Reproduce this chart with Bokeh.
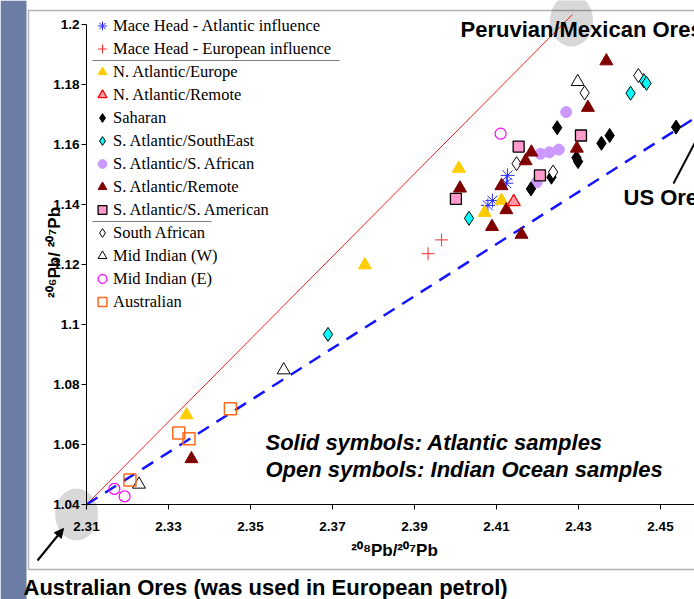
import math
from bokeh.plotting import figure
from bokeh.models import (Range1d, LinearAxis, FixedTicker, Legend, LegendItem,
                          Label, BoxAnnotation, Arrow, NormalHead)
from bokeh.embed import file_html
from bokeh.resources import INLINE

# ---------------- data ----------------
x_ticks = [2.31, 2.33, 2.35, 2.37, 2.39, 2.41, 2.43, 2.45]
x_tick_labels = ["2.31", "2.33", "2.35", "2.37", "2.39", "2.41", "2.43", "2.45"]
y_ticks = [1.04, 1.06, 1.08, 1.10, 1.12, 1.14, 1.16, 1.18, 1.20]
y_tick_labels = ["1.04", "1.06", "1.08", "1.1", "1.12", "1.14", "1.16", "1.18", "1.2"]

mace_atl_x = [2.4127, 2.4124, 2.4090, 2.4079]
mace_atl_y = [1.1497, 1.1471, 1.1413, 1.1397]
mace_eur_x = [2.3966, 2.3933]
mace_eur_y = [1.1282, 1.1236]
na_europe_x = [2.3779, 2.4008, 2.4112, 2.4071, 2.3344]
na_europe_y = [1.1198, 1.1520, 1.1413, 1.1373, 1.0698]
na_remote_x = [2.4142]
na_remote_y = [1.1409]
saharan_x = [2.4248, 2.4376, 2.4356, 2.4538, 2.4295, 2.4299, 2.4234, 2.4184]
saharan_y = [1.1656, 1.1630, 1.1604, 1.1658, 1.1556, 1.1543, 1.1491, 1.1452]
sa_southeast_x = [2.4459, 2.4466, 2.4427, 2.4033, 2.3689]
sa_southeast_y = [1.1813, 1.1804, 1.1771, 1.1354, 1.0967]
sa_african_x = [2.4270, 2.4207, 2.4229, 2.4252, 2.4198]
sa_african_y = [1.1708, 1.1569, 1.1574, 1.1583, 1.1474]
sa_remote_x = [2.4368, 2.4323, 2.4296, 2.4185, 2.4171, 2.4112, 2.4124, 2.4089, 2.4161, 2.4011, 2.3356]
sa_remote_y = [1.1878, 1.1723, 1.1587, 1.1574, 1.1545, 1.1462, 1.1382, 1.1326, 1.1300, 1.1454, 1.0552]
sa_american_x = [2.4306, 2.4154, 2.4206, 2.4001]
sa_american_y = [1.1630, 1.1593, 1.1497, 1.1419]
south_african_x = [2.4315, 2.4446, 2.4149, 2.4238]
south_african_y = [1.1772, 1.1830, 1.1536, 1.1508]
mid_indian_w_x = [2.4298, 2.3581, 2.3228]
mid_indian_w_y = [1.1809, 1.0848, 1.0467]
mid_indian_e_x = [2.4110, 2.3168, 2.3193]
mid_indian_e_y = [1.1636, 1.0452, 1.0427]
australian_x = [2.3451, 2.3325, 2.3350, 2.3206]
australian_y = [1.0719, 1.0638, 1.0619, 1.0482]

# mixing lines from the Australian ore end member
peru_line_x = [2.31, 2.4285]
peru_line_y = [1.04, 1.2033]
us_line_x = [2.31, 2.47]
us_line_y = [1.04, 1.1789]

# ore end members (grey highlight patches)
ore_x = [2.3076, 2.4283]
ore_y = [1.0367, 1.2013]

# ---------------- helpers for annotation placement (page px -> data) ----------------
def ax(px):
    return 2.31 + (px - 86) / 4100.0

def ay(py):
    return 1.04 + (504 - py) / 3000.0

W, H = 694, 599
p = figure(width=W, height=H,
           x_range=Range1d(ax(0), ax(W)), y_range=Range1d(ay(H), ay(0)),
           x_axis_type=None, y_axis_type=None,
           toolbar_location=None, output_backend="svg",
           min_border=0, min_border_left=0, min_border_right=0,
           min_border_top=0, min_border_bottom=0,
           outline_line_color=None, background_fill_color="white",
           border_fill_color="white")

# slide background strip and outer frame
p.add_layout(BoxAnnotation(right=ax(26), fill_color="#6b7ca5", fill_alpha=1.0,
                           line_color=None, level="underlay"))
p.add_layout(BoxAnnotation(left=ax(28), right=ax(760), top=ay(10), bottom=ay(569),
                           fill_alpha=0.0, line_color="black", line_width=1.5))

# grey highlight patches
p.ellipse(x=ore_x, y=ore_y, width=43, height=52, width_units="screen",
          height_units="screen", fill_color="#d8d8d8", line_color=None)

# mixing lines
p.line(peru_line_x, peru_line_y, line_color="#ff2020", line_width=1)
p.line(us_line_x, us_line_y, line_color="#1414ff", line_width=2.5, line_dash="13 9")

# axes
xaxis = LinearAxis(fixed_location=1.04, bounds=(2.31, 2.47),
                   ticker=FixedTicker(ticks=x_ticks),
                   major_label_overrides=dict(zip(x_ticks, x_tick_labels)))
yaxis = LinearAxis(fixed_location=2.31, bounds=(1.04, 1.2),
                   ticker=FixedTicker(ticks=y_ticks),
                   major_label_overrides=dict(zip(y_ticks, y_tick_labels)))
for a in (xaxis, yaxis):
    a.major_tick_in = 0
    a.major_tick_out = 5
    a.minor_tick_in = 0
    a.minor_tick_out = 0
    a.axis_line_color = "black"
    a.axis_line_width = 1
    a.major_tick_line_color = "black"
    a.major_label_text_font = "Liberation Sans"
    a.major_label_text_font_style = "bold"
    a.major_label_text_font_size = "13.5px"
    a.major_label_text_color = "black"
xaxis.major_label_standoff = 12
yaxis.major_label_standoff = 2
p.add_layout(xaxis, "below")
p.add_layout(yaxis, "left")

# series
r_mace_atl = p.scatter(mace_atl_x, mace_atl_y, marker="asterisk", size=14,
                       line_color="#2a2aff", line_width=1)
r_mace_eur = p.scatter(mace_eur_x, mace_eur_y, marker="cross", size=13,
                       line_color="#ff2a2a", line_width=1)
r_sa_african = p.scatter(sa_african_x, sa_african_y, marker="circle", size=11,
                         fill_color="#cc99ff", line_color="#cc99ff")
r_saharan = p.scatter(saharan_x, saharan_y, marker="diamond", size=14,
                      fill_color="black", line_color="black")
r_sa_southeast = p.scatter(sa_southeast_x, sa_southeast_y, marker="diamond", size=14,
                           fill_color="#00ffff", line_color="black", line_width=1)
r_south_african = p.scatter(south_african_x, south_african_y, marker="diamond", size=14,
                            fill_color="white", line_color="black", line_width=1)
r_sa_american = p.scatter(sa_american_x, sa_american_y, marker="square", size=11,
                          fill_color="#ff99cc", line_color="black", line_width=1.3)
r_na_europe = p.scatter(na_europe_x, na_europe_y, marker="triangle", size=13,
                        fill_color="#ffcc00", line_color="#ffcc00")
r_sa_remote = p.scatter(sa_remote_x, sa_remote_y, marker="triangle", size=13,
                        fill_color="#800000", line_color="#800000")
r_na_remote = p.scatter(na_remote_x, na_remote_y, marker="triangle", size=13,
                        fill_color="#ff99aa", line_color="#ff0000", line_width=1.3)
r_mid_w = p.scatter(mid_indian_w_x, mid_indian_w_y, marker="triangle", size=13,
                    fill_color="white", line_color="black", line_width=1)
r_mid_e = p.scatter(mid_indian_e_x, mid_indian_e_y, marker="circle", size=11,
                    fill_color=None, line_color="#ff00ff", line_width=1.2)
r_austr = p.scatter(australian_x, australian_y, marker="square", size=12,
                    fill_color=None, line_color="#ff6a1a", line_width=1.5)

legend_labels = ["Mace Head - Atlantic influence", "Mace Head - European influence",
                 "N. Atlantic/Europe", "N. Atlantic/Remote", "Saharan",
                 "S. Atlantic/SouthEast", "S. Atlantic/S. African", "S. Atlantic/Remote",
                 "S. Atlantic/S. American", "South African", "Mid Indian (W)",
                 "Mid Indian (E)", "Australian"]
legend_renderers = [r_mace_atl, r_mace_eur, r_na_europe, r_na_remote, r_saharan,
                    r_sa_southeast, r_sa_african, r_sa_remote, r_sa_american,
                    r_south_african, r_mid_w, r_mid_e, r_austr]
legend = Legend(items=[LegendItem(label=l, renderers=[r])
                       for l, r in zip(legend_labels, legend_renderers)],
                location=(91, 286), orientation="vertical",
                glyph_width=22, glyph_height=23, label_height=23,
                spacing=0, label_standoff=0, padding=0, margin=0,
                border_line_color=None, background_fill_alpha=0.0,
                label_text_font="Liberation Serif", label_text_font_size="16.5px",
                label_text_color="black")
p.add_layout(legend)

# legend group separators
p.add_layout(BoxAnnotation(left=ax(92), right=ax(339), top=ay(60), bottom=ay(60),
                           fill_alpha=0.0, line_color="black", line_width=1))
p.add_layout(BoxAnnotation(left=ax(92), right=ax(211), top=ay(221), bottom=ay(221),
                           fill_alpha=0.0, line_color="black", line_width=1))

# texts (positions given as page pixels of the text baseline, corrected for render offset)
def lab(px, py, text, size, style="bold", align="left", angle=0.0):
    if angle == 0.0:
        py -= 8
    else:
        px -= 8
    p.add_layout(Label(x=ax(px), y=ay(py), text=text, text_font="Liberation Sans",
                       text_font_style=style, text_font_size=size, text_color="black",
                       text_align=align, text_baseline="alphabetic", angle=angle))

lab(460, 36.5, "Peruvian/Mexican Ores", "22px")
lab(623, 205, "US Ores", "22px")
lab(265, 450, "Solid symbols: Atlantic samples", "22px", style="bold italic")
lab(265, 477, "Open symbols: Indian Ocean samples", "22px", style="bold italic")
lab(23, 595, "Australian Ores (was used in European petrol)", "22px")
lab(394, 558, "²⁰⁸Pb/²⁰⁷Pb", "17px", align="center")
lab(62, 252, "²⁰⁶Pb/ ²⁰⁷Pb", "17px", align="center", angle=math.pi / 2)

# arrows
p.add_layout(Arrow(end=NormalHead(size=9, fill_color="black", line_color="black"),
                   x_start=ax(37), y_start=ay(560), x_end=ax(63), y_end=ay(528),
                   line_color="black", line_width=2))
p.add_layout(Arrow(end=None, x_start=ax(673), y_start=ay(183), x_end=ax(705), y_end=ay(122),
                   line_color="black", line_width=2))

open("out.html", "w").write(file_html(p, INLINE))
